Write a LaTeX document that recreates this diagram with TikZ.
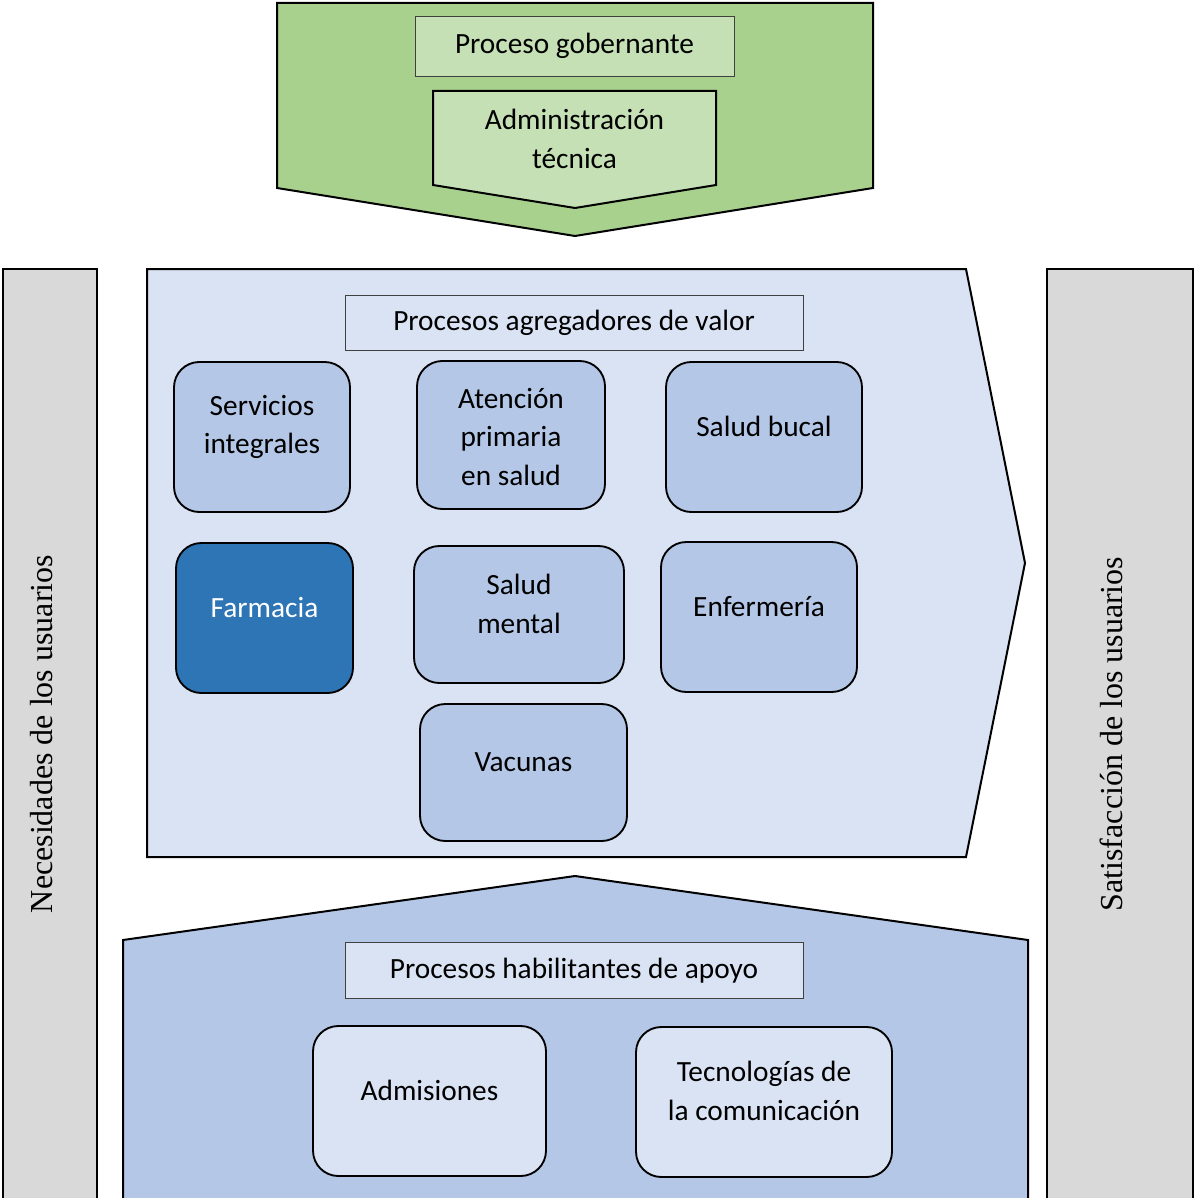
\documentclass[tikz,border=0pt]{standalone}
\usepackage{fontspec}
\setmainfont{Carlito}
\newfontfamily\sidefont{Liberation Serif}
\definecolor{govdark}{HTML}{A9D18E}
\definecolor{govlight}{HTML}{C5E0B4}
\definecolor{valbg}{HTML}{DAE3F3}
\definecolor{valbox}{HTML}{B4C7E7}
\definecolor{hilite}{HTML}{2E75B6}
\definecolor{sidegray}{HTML}{D9D9D9}
\begin{document}
\begin{tikzpicture}[x=0.75pt,y=-0.75pt,
  bigshape/.style={draw=black,line width=1.5pt,line join=miter},
  titlebox/.style={draw=black!75,line width=0.6pt},
  procbox/.style={draw=black,line width=1.4pt,rounded corners=19pt,fill=valbox},
  lbl/.style={font=\fontsize{22}{29}\selectfont,align=center,inner sep=0pt},
  sidelbl/.style={font=\sidefont\fontsize{24}{28}\selectfont,rotate=90,inner sep=0pt}]
\useasboundingbox (0,0) rectangle (1195,1198);

% governing process chevron
\draw[bigshape,fill=govdark] (277,3) -- (873,3) -- (873,188) -- (575,236) -- (277,188) -- cycle;
\draw[titlebox,fill=govlight] (415,16) rectangle (734,76);
\node[lbl] (gob) at (574.5,46) {Proceso gobernante};
\draw[bigshape,fill=govlight] (433,91) -- (716,91) -- (716,185) -- (575,208) -- (433,185) -- cycle;
\node[lbl] (adm) at (574.5,139) {Administración\\técnica};

% side bars
\draw[bigshape,fill=sidegray] (3,269) rectangle (97,1200);
\node[sidelbl] (nec) at (42,734) {Necesidades de los usuarios};
\draw[bigshape,fill=sidegray] (1047,269) rectangle (1193,1200);
\node[sidelbl] (sat) at (1111,734) {Satisfacción de los usuarios};

% value-adding processes arrow
\draw[bigshape,fill=valbg] (147,269) -- (966,269) -- (1025,563) -- (966,857) -- (147,857) -- cycle;
\draw[titlebox,fill=valbg] (345,295) rectangle (803,350);
\node[lbl] (agr) at (574,323) {Procesos agregadores de valor};

\draw[procbox] (174,362) rectangle (350,512);
\node[lbl] (si) at (262,427) {Servicios\\integrales};
\draw[procbox] (417,361) rectangle (605,509);
\node[lbl] (aps) at (511,437) {Atención\\primaria\\en salud};
\draw[procbox] (666,362) rectangle (862,512);
\node[lbl] (sb) at (764,426) {Salud bucal};
\draw[procbox,fill=hilite] (176,543) rectangle (353,693);
\node[lbl,text=white] (far) at (264.5,608) {Farmacia};
\draw[procbox] (414,546) rectangle (624,683);
\node[lbl] (sm) at (519,604) {Salud\\mental};
\draw[procbox] (661,542) rectangle (857,692);
\node[lbl] (enf) at (759,607) {Enfermería};
\draw[procbox] (420,704) rectangle (627,841);
\node[lbl] (vac) at (523.5,762) {Vacunas};

% support processes house
\draw[bigshape,fill=valbox] (123,1200) -- (123,940) -- (575,876) -- (1028,940) -- (1028,1200);
\draw[titlebox,fill=valbg] (345,942) rectangle (803,998);
\node[lbl] (hab) at (574,971) {Procesos habilitantes de apoyo};
\draw[procbox,fill=valbg] (313,1026) rectangle (546,1176);
\node[lbl] (admi) at (429.5,1090) {Admisiones};
\draw[procbox,fill=valbg] (636,1027) rectangle (892,1177);
\node[lbl] (tec) at (764,1091) {Tecnologías de\\la comunicación};
\end{tikzpicture}
\end{document}
